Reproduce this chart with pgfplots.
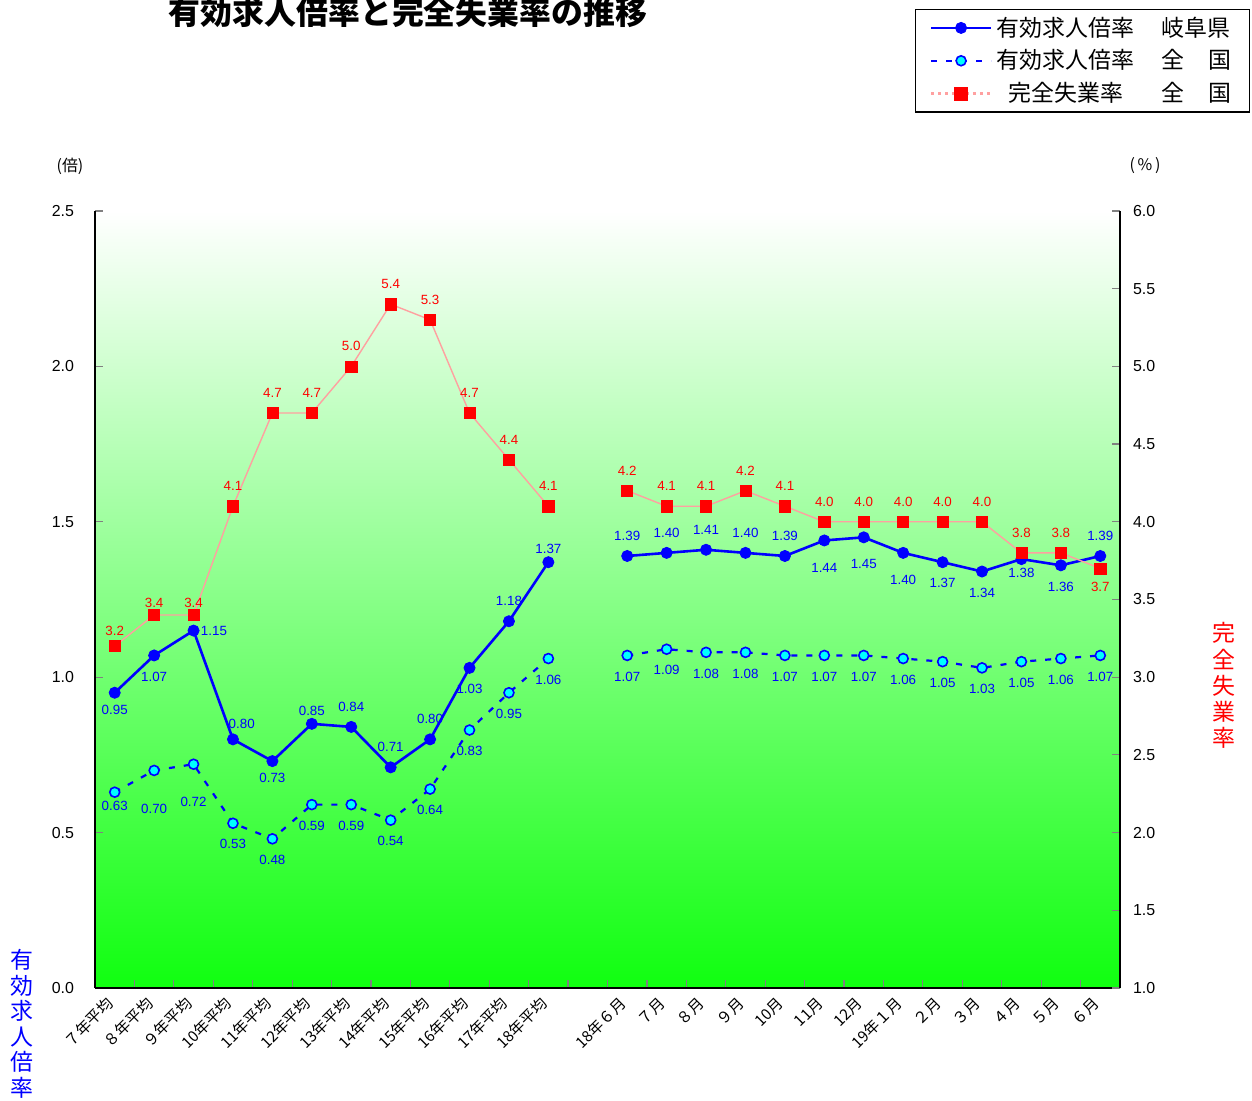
\documentclass[border=0pt]{standalone}
\usepackage{pgfplots}
\pgfplotsset{compat=1.18}
\usepackage{pgfplotstable}
\usepackage{fontspec}
\setmainfont{Liberation Sans}
\newfontfamily\jp{Noto Sans CJK JP}
\definecolor{lineblue}{RGB}{0,0,255}
\definecolor{markcyan}{RGB}{0,255,255}
\definecolor{pinkline}{RGB}{255,160,160}
\definecolor{bggreen}{RGB}{16,255,16}

% 有効求人倍率 岐阜県
\pgfplotstableread{
x y lab
0 0.95 0.95
1 1.07 1.07
2 1.15 1.15
3 0.80 0.80
4 0.73 0.73
5 0.85 0.85
6 0.84 0.84
7 0.71 0.71
8 0.80 0.80
9 1.03 1.03
10 1.18 1.18
11 1.37 1.37
12 nan -
13 1.39 1.39
14 1.40 1.40
15 1.41 1.41
16 1.40 1.40
17 1.39 1.39
18 1.44 1.44
19 1.45 1.45
20 1.40 1.40
21 1.37 1.37
22 1.34 1.34
23 1.38 1.38
24 1.36 1.36
25 1.39 1.39
}\gifu

% 有効求人倍率 全国
\pgfplotstableread{
x y lab
0 0.63 0.63
1 0.70 0.70
2 0.72 0.72
3 0.53 0.53
4 0.48 0.48
5 0.59 0.59
6 0.59 0.59
7 0.54 0.54
8 0.64 0.64
9 0.83 0.83
10 0.95 0.95
11 1.06 1.06
12 nan -
13 1.07 1.07
14 1.09 1.09
15 1.08 1.08
16 1.08 1.08
17 1.07 1.07
18 1.07 1.07
19 1.07 1.07
20 1.06 1.06
21 1.05 1.05
22 1.03 1.03
23 1.05 1.05
24 1.06 1.06
25 1.07 1.07
}\zenkoku

% 完全失業率 全国
\pgfplotstableread{
x y lab
0 3.2 3.2
1 3.4 3.4
2 3.4 3.4
3 4.1 4.1
4 4.7 4.7
5 4.7 4.7
6 5.0 5.0
7 5.4 5.4
8 5.3 5.3
9 4.7 4.7
10 4.4 4.4
11 4.1 4.1
12 nan -
13 4.2 4.2
14 4.1 4.1
15 4.1 4.1
16 4.2 4.2
17 4.1 4.1
18 4.0 4.0
19 4.0 4.0
20 4.0 4.0
21 4.0 4.0
22 4.0 4.0
23 3.8 3.8
24 3.8 3.8
25 3.7 3.7
}\shitsugyo

\pgfplotsset{
  base/.style={
    scale only axis, width=512.5bp, height=388.5bp,
    xmin=-0.5, xmax=25.5,
    tick align=inside, major tick length=4bp, minor tick length=4bp,
    axis line style={line width=0.6pt}, tick style={line width=0.6pt},
    unbounded coords=jump,
    yticklabel style={font=\fontsize{8}{9}\selectfont,
      /pgf/number format/assume math mode=true,
      /pgf/number format/fixed, /pgf/number format/precision=1,
      /pgf/number format/zerofill},
  },
  % labels only: colour, anchor, distance
  labs/.style n args={3}{
    draw=none, mark=none, forget plot, unbounded coords=discard,
    point meta=explicit symbolic, nodes near coords,
    every node near coord/.append style={anchor=#2, inner sep=#3,
      font=\fontsize{6.7}{7}\selectfont, text=#1},
  },
  gifustyle/.style={lineblue, line width=1.3bp, mark=*, mark size=2.8,
    mark options={fill=lineblue, draw=lineblue, line width=0.4bp}},
  zenstyle/.style={lineblue, line width=1.1bp, dash pattern=on 3bp off 4.5bp,
    mark=*, mark size=2.5, mark options={solid, fill=markcyan, draw=lineblue, line width=0.8bp}},
  shitstyle/.style={pinkline, line width=0.7bp, mark=square*, mark size=2.8,
    mark options={fill=red, draw=red, line width=0.3bp}},
}
% \lab{table}{colour}{anchor}{distance}{which points}
\newcommand\lab[5]{\addplot[labs={#2}{#3}{#4}, restrict expr to domain={#5}{1:1}]
  table[x=x, y=y, meta=lab] {#1};}
\newcommand\ci{\coordindex}

\begin{document}
\begin{tikzpicture}
\begin{axis}[base,
  ymin=0, ymax=2.5, ytick={0,0.5,...,2.5},
  axis x line*=bottom, axis y line*=left,
  axis background/.style={top color=white, bottom color=bggreen},
  xtick={0,...,25},
  xticklabels={７年平均,８年平均,９年平均,10年平均,11年平均,12年平均,13年平均,14年平均,15年平均,16年平均,17年平均,18年平均,{},18年６月,７月,８月,９月,10月,11月,12月,19年１月,２月,３月,４月,５月,６月},
  major x tick style={draw=none},
  minor xtick={0.5,1.5,...,24.5},
  xticklabel style={font=\jp\fontsize{7.7}{8}\selectfont, rotate=45, anchor=east, xshift=-2.5bp, yshift=-3bp},
  yticklabel style={xshift=-7bp},
]
\addplot[gifustyle] table[x=x, y=y] {\gifu};
\addplot[zenstyle] table[x=x, y=y] {\zenkoku};
% labels 岐阜県
\lab{\gifu}{lineblue}{north}{6bp}{(\ci==0)||(\ci==4)}
\lab{\gifu}{lineblue}{north}{8bp}{(\ci==1)||(\ci==9)||(\ci==21)||(\ci==22)||(\ci==24)}
\lab{\gifu}{lineblue}{north}{11bp}{(\ci>17)&&(\ci<21)}
\lab{\gifu}{lineblue}{north}{4.5bp}{\ci==23}
\lab{\gifu}{lineblue}{south}{4bp}{(\ci==5)||(\ci==11)}
\lab{\gifu}{lineblue}{south}{7.5bp}{(\ci==6)||(\ci==7)||(\ci==8)||(\ci==10)||((\ci>12)&&(\ci<18))||(\ci==25)}
\lab{\gifu}{lineblue}{west}{3.5bp}{\ci==2}
\lab{\gifu}{lineblue}{240}{5bp}{\ci==3}
% labels 全国
\lab{\zenkoku}{lineblue}{north}{4.5bp}{\ci==0}
\lab{\zenkoku}{lineblue}{north}{16.5bp}{(\ci==1)||(\ci==2)}
\lab{\zenkoku}{lineblue}{north}{8bp}{\ci>2}
\end{axis}
\begin{axis}[base,
  ymin=1, ymax=6, ytick={1,1.5,...,6},
  axis y line*=right, axis x line=none,
  yticklabel style={xshift=3bp},
  legend image code/.code={\draw[mark repeat=2, mark phase=2] plot coordinates {(0bp,0bp) (15bp,0bp) (30bp,0bp)};},
  legend style={at={(1.1268,1.26)}, anchor=north east, draw=black, fill=white,
    font=\jp\fontsize{11.5}{13}\selectfont, row sep=1.3bp, inner xsep=7bp, inner ysep=1.6bp,
    line width=0.6pt},
  legend cell align=left,
]
\addlegendimage{gifustyle}
\addlegendentry{\makebox[82.5bp][l]{有効求人倍率}岐阜県}
\addlegendimage{zenstyle}
\addlegendentry{\makebox[82.5bp][l]{有効求人倍率}全\hspace{12bp}国}
\addlegendimage{pinkline, line width=1.5bp, dotted, mark=square*, mark size=2.8, mark options={solid, fill=red, draw=red}}
\addlegendentry{\hspace{6bp}\makebox[76.5bp][l]{完全失業率}全\hspace{12bp}国}
\addplot[shitstyle, forget plot] table[x=x, y=y] {\shitsugyo};
\lab{\shitsugyo}{red}{south}{5bp}{\ci==0}
\lab{\shitsugyo}{red}{south}{3.5bp}{(\ci==1)||(\ci==2)}
\lab{\shitsugyo}{red}{south}{7.5bp}{(\ci>2)&&(\ci<25)}
\lab{\shitsugyo}{red}{north}{6.5bp}{\ci==25}
\end{axis}
\node[font=\jp\bfseries\fontsize{16}{18}\selectfont] at (156.5bp,488bp) {有効求人倍率と完全失業率の推移};
\node[font=\jp\fontsize{11.5}{12.8}\selectfont, text=lineblue, align=center] at (-36.5bp,-18bp) {有\\効\\求\\人\\倍\\率};
\node[font=\jp\fontsize{11.5}{13.1}\selectfont, text=red, align=center] at (564.5bp,151.25bp) {完\\全\\失\\業\\率};
\node[font=\jp\fontsize{8}{9}\selectfont] at (-12.5bp,411bp) {(倍)};
\node[font=\jp\fontsize{8}{9}\selectfont] at (525bp,411bp) {(\,\%\,)};
\pgfresetboundingbox
\path[use as bounding box] (-47.5bp,-56.5bp) rectangle (578.5bp,494bp);
\end{tikzpicture}
\end{document}
